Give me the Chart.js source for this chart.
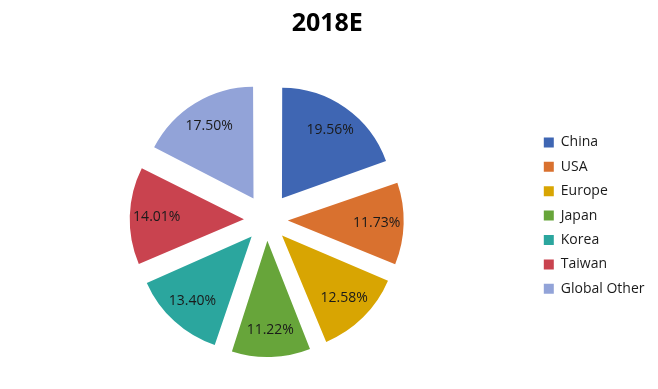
<!DOCTYPE html>
<html>
<head>
<meta charset="utf-8">
<script src="https://cdn.jsdelivr.net/npm/chart.js@4.4.0/dist/chart.umd.min.js"></script>
<style>
  html, body { margin: 0; padding: 0; background: #ffffff; }
  #wrap { width: 658px; height: 389px; }
</style>
</head>
<body>
<div id="wrap"><canvas id="pieChart" width="658" height="389"></canvas></div>
<script>
    const TITLE_TEXT = '2018E';
    const regions = ['China', 'USA', 'Europe', 'Japan', 'Korea', 'Taiwan', 'Global Other'];
    const shares = [19.56, 11.73, 12.58, 11.22, 13.40, 14.01, 17.50];
    const sliceColors = ['#3f66b3', '#d9712f', '#d8a502', '#67a53a', '#2ba69e', '#c9434f', '#92a3d8'];

    const FONT = '"Open Sans", "DejaVu Sans", sans-serif';
    const PIE_RADIUS = 109;
    const EXPLODE = 28;       // how far each slice is pulled out
    const LABEL_DIST = 110;   // label distance from pie centre

    // chart.js shifts an arc by offset/4 * (2 - sin(circumference)), undo that so every slice moves EXPLODE px
    function sliceOffset(ctx) {
        let total = ctx.dataset.data.reduce((a, b) => a + b, 0);
        let circ = ctx.raw / total * Math.PI * 2;
        return 4 * EXPLODE / (2 - Math.sin(Math.min(Math.PI, circ)));
    }

    const percentLabels = {
        id: 'percentLabels',
        afterDatasetsDraw(chart) {
            const ctx = chart.ctx;
            const meta = chart.getDatasetMeta(0);
            ctx.save();
            ctx.font = '14px ' + FONT;
            ctx.fillStyle = '#1a1a1a';
            ctx.textAlign = 'center';
            ctx.textBaseline = 'middle';
            meta.data.forEach((arc, i) => {
                const p = arc.getProps(['x', 'y', 'startAngle', 'endAngle'], true);
                const mid = (p.startAngle + p.endAngle) / 2;
                const x = p.x + Math.cos(mid) * LABEL_DIST;
                const y = p.y + Math.sin(mid) * LABEL_DIST;
                ctx.fillText(shares[i].toFixed(2) + '%', x, y);
            });
            ctx.restore();
        }
    };

    const chart = new Chart(document.getElementById('pieChart'), {
        type: 'pie',
        data: {
            labels: regions,
            datasets: [{
                data: shares,
                backgroundColor: sliceColors,
                borderWidth: 0,
                offset: sliceOffset,
                hoverOffset: 0
            }]
        },
        options: {
            responsive: false,
            animation: false,
            radius: PIE_RADIUS,
            layout: { padding: { right: 3.5 } },
            plugins: {
                title: {
                    display: true,
                    text: TITLE_TEXT,
                    color: '#000000',
                    font: { family: FONT, size: 25, weight: 'bold', lineHeight: 1.2 },
                    padding: { top: 9, bottom: 12 }
                },
                legend: {
                    position: 'right',
                    align: 'start',
                    maxWidth: 124,
                    title: {
                        display: true,
                        text: '',
                        font: { size: 12, lineHeight: 1 },
                        padding: { top: 113, bottom: 0 }
                    },
                    labels: {
                        boxWidth: 10,
                        boxHeight: 10,
                        padding: 10.4,
                        color: '#1a1a1a',
                        font: { family: FONT, size: 14 }
                    }
                },
                tooltip: { enabled: false }
            }
        },
        plugins: [percentLabels]
    });
</script>
</body>
</html>
